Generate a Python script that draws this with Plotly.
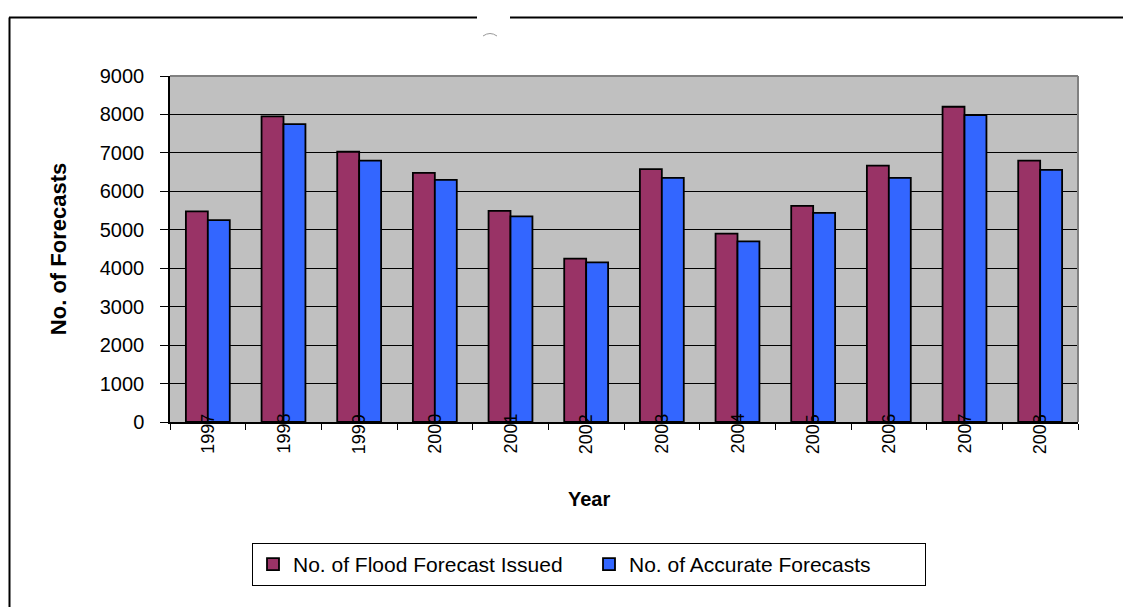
import plotly.graph_objects as go

# Yearly flood forecasting record
years = ["1997", "1998", "1999", "2000", "2001", "2002",
         "2003", "2004", "2005", "2006", "2007", "2008"]
issued = [5480, 7950, 7030, 6480, 5490, 4250, 6580, 4900, 5620, 6670, 8200, 6800]
accurate = [5250, 7750, 6800, 6300, 5350, 4150, 6350, 4700, 5440, 6350, 7980, 6560]

series_names = ["No. of Flood Forecast Issued", "No. of Accurate Forecasts"]
y_ticks = list(range(0, 9001, 1000))

FONT = "Liberation Sans, Arial, sans-serif"
W, H = 1123, 607
ML, MR, MT, MB = 170, 45, 76, 185
PW, PH = W - ML - MR, H - MT - MB


def px_x(p):
    """Convert a pixel column into paper x."""
    return (p - ML) / PW


def px_y(p):
    """Convert a pixel row into paper y."""
    return (H - MB - p) / PH


fig = go.Figure()
fig.add_trace(go.Bar(
    x=years, y=issued, name=series_names[0],
    marker=dict(color="#993366", line=dict(color="black", width=1.8)),
))
fig.add_trace(go.Bar(
    x=years, y=accurate, name=series_names[1],
    marker=dict(color="#3366FF", line=dict(color="black", width=1.8)),
))

# rotated year labels sitting on the category axis (by category index)
for i, yr in enumerate(years):
    fig.add_annotation(
        x=i, y=0, xref="x", yref="y", text=yr, textangle=-90,
        showarrow=False, xanchor="center", yanchor="top", yshift=10,
        font=dict(family=FONT, size=18, color="black"),
    )

# category axis title
fig.add_annotation(
    x=px_x(589), y=px_y(499), xref="paper", yref="paper",
    text="<b>Year</b>", showarrow=False, xanchor="center", yanchor="middle",
    font=dict(family=FONT, size=20, color="black"),
)

shapes = [
    # gray top and right edges of the plot area
    dict(type="line", xref="paper", yref="paper", x0=0, x1=1, y0=1, y1=1,
         line=dict(color="#808080", width=2)),
    dict(type="line", xref="paper", yref="paper", x0=1, x1=1, y0=0, y1=1,
         line=dict(color="#808080", width=2)),
    # outer frame
    dict(type="line", xref="paper", yref="paper", x0=px_x(9), x1=px_x(477),
         y0=px_y(17.5), y1=px_y(17.5), line=dict(color="black", width=2)),
    dict(type="line", xref="paper", yref="paper", x0=px_x(510), x1=px_x(1125),
         y0=px_y(17.5), y1=px_y(17.5), line=dict(color="black", width=2)),
    dict(type="line", xref="paper", yref="paper", x0=px_x(9.5), x1=px_x(9.5),
         y0=px_y(17.5), y1=px_y(609), line=dict(color="black", width=2)),
    # small mark under the frame gap
    dict(type="path", xref="paper", yref="paper",
         path=f"M {px_x(483)},{px_y(36)} Q {px_x(490)},{px_y(31)} {px_x(497)},{px_y(36)}",
         line=dict(color="#999999", width=1)),
]

fig.update_layout(
    width=W, height=H,
    margin=dict(l=ML, r=MR, t=MT, b=MB, autoexpand=False),
    paper_bgcolor="white",
    plot_bgcolor="#C0C0C0",
    barmode="group",
    bargap=0.42,
    bargroupgap=0,
    font=dict(family=FONT, color="black"),
    showlegend=True,
    legend=dict(
        orientation="h", x=px_x(252), y=px_y(543), xanchor="left", yanchor="top",
        bordercolor="black", borderwidth=1, bgcolor="white",
        font=dict(family=FONT, size=21, color="black"),
        entrywidth=291, itemwidth=30, traceorder="normal",
    ),
    shapes=shapes,
)

fig.update_xaxes(
    type="category",
    range=[-0.5, len(years) - 0.5],
    showticklabels=False,
    ticks="outside", ticklen=6, tickcolor="black", tickson="boundaries",
    showline=True, linecolor="black", linewidth=1.5,
    showgrid=False, zeroline=False,
)
fig.update_yaxes(
    range=[0, 9000], tickvals=y_ticks,
    tickfont=dict(family=FONT, size=20),
    ticks="outside", ticklen=8, tickcolor="black",
    ticklabelstandoff=12,
    showline=True, linecolor="black", linewidth=1.5,
    showgrid=True, gridcolor="black", gridwidth=1,
    zeroline=False,
    title=dict(text="<b>No. of Forecasts</b>", font=dict(family=FONT, size=22), standoff=27),
)

fig.write_html("out.html")
